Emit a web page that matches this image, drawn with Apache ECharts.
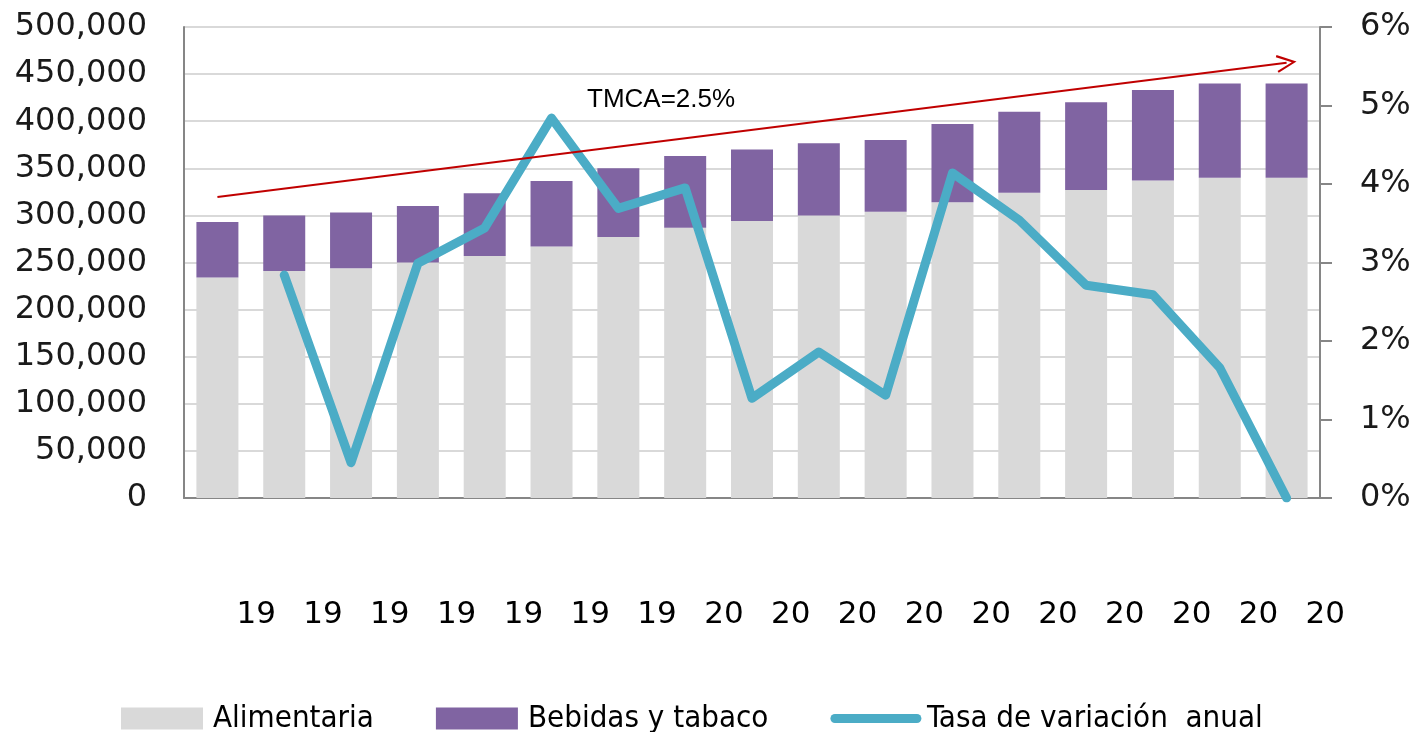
<!DOCTYPE html>
<html>
<head>
<meta charset="utf-8">
<script src="https://cdn.jsdelivr.net/npm/echarts@6/dist/echarts.min.js"></script>
<style>
  html, body { margin: 0; padding: 0; background: #fff; }
  #main { width: 1415px; height: 732px; }
</style>
</head>
<body>
<div id="main"></div>
<script>
// años (se muestran truncados en el eje)
var years = ['1993','1994','1995','1996','1997','1998','1999','2000','2001',
             '2002','2003','2004','2005','2006','2007','2008','2009'];
// industria alimentaria
var alimentaria = [234000, 241000, 244000, 250000, 257000, 267000, 277000, 287000, 294000,
                   300000, 304000, 314000, 324000, 327000, 337000, 340000, 340000];
// bebidas y tabaco
var bebidas = [59000, 59000, 59000, 60000, 66500, 69500, 73000, 76000, 76000,
               76500, 76000, 83000, 86000, 93000, 96000, 100000, 100000];
// tasa de variación anual (%)
var tasa = [null, 2.84, 0.45, 2.99, 3.44, 4.84, 3.69, 3.95, 1.27,
            1.86, 1.31, 4.14, 3.54, 2.71, 2.59, 1.66, 0.0];
// flecha de tendencia (TMCA)
var trendStart = [0, 319500];
var trendEnd = [16, 462000];

var axisGrey = '#868686';
var gridGrey = '#d9d9d9';
var labelFont = 'DejaVu Sans';

var myChart = echarts.init(document.getElementById('main'));
var option = {
    backgroundColor: '#ffffff',
    animation: false,
    grid: { left: 184, right: 95, top: 27, bottom: 234 },
    legend: {
        left: 116,
        top: 698,
        width: 1300,
        itemWidth: 82,
        itemHeight: 22,
        itemGap: 62,
        textStyle: {
            fontFamily: "'Liberation Sans Narrow', 'DejaVu Sans Condensed', sans-serif",
            fontSize: 31,
            color: '#000',
            padding: [4, 0, 0, 5]
        },
        data: [
            { name: 'Alimentaria', icon: 'rect' },
            { name: 'Bebidas y tabaco', icon: 'rect' },
            {
                name: 'Tasa de variación  anual',
                itemStyle: { opacity: 0 },
                lineStyle: { width: 9, cap: 'round', color: '#4bacc6' }
            }
        ]
    },
    xAxis: [{
        type: 'category',
        data: years,
        axisTick: { show: false },
        axisLine: { lineStyle: { color: axisGrey, width: 2 } },
        axisLabel: {
            formatter: function (v) { return v.slice(0, 2); },
            align: 'left',
            padding: [0, 0, 0, 19],
            margin: 101,
            fontFamily: labelFont,
            fontSize: 31,
            color: '#000'
        }
    }],
    yAxis: [{
        type: 'value',
        min: 0,
        max: 500000,
        interval: 50000,
        axisLine: { show: true, lineStyle: { color: axisGrey, width: 2 } },
        axisTick: { show: false },
        splitLine: { lineStyle: { color: gridGrey, width: 2 } },
        axisLabel: {
            formatter: function (v) { return v.toLocaleString('en-US'); },
            margin: 37,
            fontFamily: labelFont,
            fontSize: 32,
            color: '#1a1a1a'
        }
    }, {
        type: 'value',
        min: 0,
        max: 6,
        interval: 1,
        position: 'right',
        axisLine: { show: true, lineStyle: { color: axisGrey, width: 2 } },
        axisTick: { show: true, length: 12, lineStyle: { color: axisGrey, width: 2 } },
        splitLine: { show: false },
        axisLabel: {
            formatter: '{value}%',
            margin: 40,
            fontFamily: labelFont,
            fontSize: 32,
            color: '#1a1a1a'
        }
    }],
    series: [{
        name: 'Alimentaria',
        type: 'bar',
        stack: 'total',
        barWidth: 42,
        itemStyle: { color: '#d9d9d9' },
        data: alimentaria,
        markLine: {
            silent: true,
            z: 10,
            symbol: ['none', 'path://M0,12 L6,0 L12,12 L10.6,12.6 L6,3 L1.4,12.6 Z'],
            symbolSize: [18, 20],
            lineStyle: { color: '#c00000', width: 2, type: 'solid' },
            label: { show: false },
            data: [[
                { coord: trendStart },
                { coord: trendEnd }
            ]]
        }
    }, {
        name: 'Bebidas y tabaco',
        type: 'bar',
        stack: 'total',
        barWidth: 42,
        itemStyle: { color: '#8064a2' },
        data: bebidas
    }, {
        name: 'Tasa de variación  anual',
        type: 'line',
        yAxisIndex: 1,
        symbol: 'none',
        z: 5,
        lineStyle: { color: '#4bacc6', width: 9, cap: 'round', join: 'round' },
        itemStyle: { color: '#4bacc6' },
        data: tasa
    }],
    graphic: [{
        type: 'text',
        left: 587,
        top: 87,
        z: 20,
        style: {
            text: 'TMCA=2.5%',
            fontFamily: 'Liberation Sans',
            fontSize: 26,
            fill: '#000'
        }
    }]
};
myChart.setOption(option);
window.addEventListener('resize', function () { myChart.resize(); });
</script>
</body>
</html>
